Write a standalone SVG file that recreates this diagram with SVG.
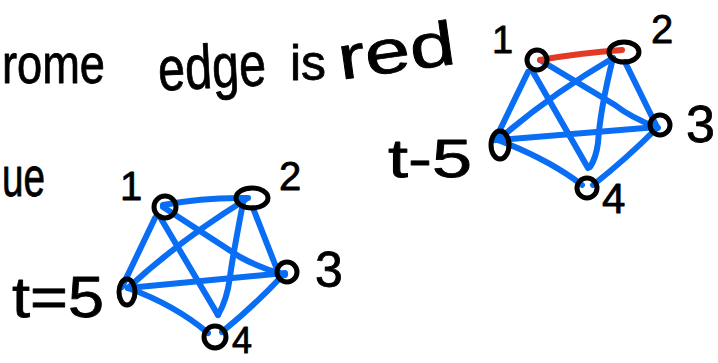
<svg xmlns="http://www.w3.org/2000/svg" width="718" height="363" viewBox="0 0 718 363">
<style>
.hw{font-family:"Liberation Sans","DejaVu Sans",sans-serif;fill:#000;stroke:#000;stroke-width:0.8;stroke-linejoin:round}
.node{fill:none;stroke:#000;stroke-width:5;stroke-linecap:round}
.e{fill:none;stroke:#0A6EF5;stroke-width:6;stroke-linecap:round;stroke-linejoin:round}
.r{fill:none;stroke:#E23A25;stroke-width:6;stroke-linecap:round}
</style>
<rect width="718" height="363" fill="#fff"/>
<g id="caption">
<text class="hw" x="2" y="83" font-size="56" textLength="103" lengthAdjust="spacingAndGlyphs">rome</text>
<text class="hw" x="158" y="88" font-size="62" textLength="108" lengthAdjust="spacingAndGlyphs" transform="rotate(-3 210 70)">edge</text>
<text class="hw" x="290" y="80" font-size="50" textLength="36" lengthAdjust="spacingAndGlyphs">is</text>
<text class="hw" x="337" y="72" font-size="62" textLength="118" lengthAdjust="spacingAndGlyphs" transform="rotate(-8 395 50)">red</text>
<text class="hw" x="2" y="196" font-size="56" textLength="43" lengthAdjust="spacingAndGlyphs">ue</text>
</g>
<g id="connectors-top">
<path class="e" d="M540,60 L615,105 Q630,117 658,128"/>
<path class="e" d="M533,72 L588,168"/>
<path class="e" d="M528,72 L495,140"/>
<path class="e" d="M613,58 Q550,95 498,140"/>
<path class="e" d="M613,58 Q600,110 598,143 Q596,158 590,167"/>
<path class="e" d="M625,62 L657,127"/>
<path class="e" d="M657,127 L498,140"/>
<path class="e" d="M657,128 Q625,160 593,185"/>
<path class="e" d="M498,140 Q550,160 582,185"/>
<path class="r" d="M540,60 Q580,53 622,50"/>
</g>
<g id="graph-top">
<g id="t1"><circle class="node" cx="537" cy="60" r="10"/><text class="hw" x="492" y="53" font-size="38">1</text></g>
<g id="t2"><ellipse class="node" cx="624" cy="52" rx="15" ry="10"/><text class="hw" x="651" y="43" font-size="40">2</text></g>
<g id="t3"><circle class="node" cx="660" cy="125" r="10"/><text class="hw" x="686" y="142" font-size="52">3</text></g>
<g id="t4"><circle class="node" cx="587" cy="188" r="10"/><text class="hw" x="602" y="213" font-size="42">4</text></g>
<g id="t5"><ellipse class="node" cx="500" cy="145" rx="9" ry="14"/><text class="hw" x="388" y="177" font-size="54" textLength="84" lengthAdjust="spacingAndGlyphs">t-5</text></g>
</g>
<g id="connectors-bottom">
<path class="e" d="M163,205 Q205,197 248,198"/>
<path class="e" d="M163,207 L240,257 Q260,268 285,275"/>
<path class="e" d="M160,217 L218,315"/>
<path class="e" d="M155,218 L122,287"/>
<path class="e" d="M245,200 Q180,240 128,288"/>
<path class="e" d="M243,203 Q232,260 230,277 Q227,300 218,315"/>
<path class="e" d="M253,208 L278,272"/>
<path class="e" d="M285,273 L128,288"/>
<path class="e" d="M283,275 Q255,305 222,332"/>
<path class="e" d="M128,288 Q175,305 208,333"/>
</g>
<g id="graph-bottom">
<g id="b1"><circle class="node" cx="165" cy="207" r="11"/><text class="hw" x="120" y="200" font-size="40">1</text></g>
<g id="b2"><ellipse class="node" cx="252" cy="198" rx="16" ry="10"/><text class="hw" x="279" y="190" font-size="40">2</text></g>
<g id="b3"><circle class="node" cx="287" cy="272" r="10"/><text class="hw" x="315" y="287" font-size="50">3</text></g>
<g id="b4"><circle class="node" cx="215" cy="337" r="11"/><text class="hw" x="232" y="353" font-size="36">4</text></g>
<g id="b5"><ellipse class="node" cx="127" cy="292" rx="8" ry="13"/><text class="hw" x="12" y="317" font-size="58" textLength="92" lengthAdjust="spacingAndGlyphs">t=5</text></g>
</g>
</svg>
